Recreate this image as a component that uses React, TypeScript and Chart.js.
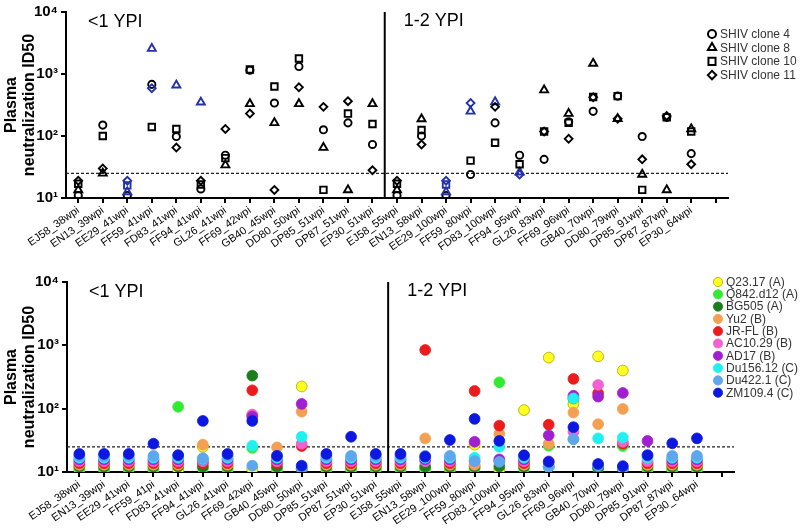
import React, { useEffect, useRef } from 'react';
import { Chart, registerables } from 'chart.js';
import { drawPoint } from 'chart.js/helpers';

Chart.register(...registerables);

const FONT = '"Liberation Sans", Arial, Helvetica, sans-serif';

// ---------- shared ----------
const periodLabels = ['<1 YPI', '1-2 YPI'];
const firstPeriodCount = 13;
const yTickValues = [10, 100, 1000, 10000];
const threshold = 25;
const yTitle = ['Plasma', 'neutralization ID50'];

// ---------- top panel ----------
const topLabels = [
  'EJ58_38wpi', 'EN13_39wpi', 'EE29_41wpi', 'FF59_41wpi', 'FD83_41wpi', 'FF94_41wpi', 'GL26_41wpi',
  'FF69_42wpi', 'GB40_45wpi', 'DD80_50wpi', 'DP85_51wpi', 'DP87_51wpi', 'EP30_51wpi',
  'EJ58_55wpi', 'EN13_58wpi', 'EE29_100wpi', 'FF59_80wpi', 'FD83_100wpi', 'FF94_95wpi', 'GL26_83wpi',
  'FF69_96wpi', 'GB40_70wpi', 'DD80_79wpi', 'DP85_91wpi', 'DP87_87wpi', 'EP30_64wpi', '',
];
const topSeriesNames = ['SHIV clone 4', 'SHIV clone 8', 'SHIV clone 10', 'SHIV clone 11'];
const clone4 = [11, 150, 11, 680, 98, 14, 49, 1150, 340, 1320, 126, 163, 73, 11, 100, 11, 24, 163, 49, 42, 170, 250, 440, 98, 200, 52, null];
const clone8 = [13.5, 25, 12.5, 2570, 660, 350, 34, 330, 163, 330, 65, 13.5, 330, 13.5, 188, 12.5, 250, 355, 26, 550, 230, 1480, 190, 24, 13.5, 130, null];
const clone10 = [17, 100, 16, 140, 130, 16.5, 44, 1180, 630, 1780, 13.5, 230, 156, 17, 125, 16.5, 40, 78, 35, 118, 163, 425, 440, 13.5, 200, 118, null];
const clone11 = [19, 30, 19, 590, 65, 19, 130, 230, 13.5, 610, 295, 365, 28, 19, 73, 19, 340, 295, 24, 118, 90, 420, 190, 42, 210, 35, null];
// indices of points shown highlighted (blue)
const clone4Highlighted: number[] = [];
const clone8Highlighted = [2, 3, 4, 5, 15, 16, 17, 18];
const clone10Highlighted = [2, 15];
const clone11Highlighted = [2, 3, 15, 16, 18];

// ---------- bottom panel ----------
const bottomLabels = [
  'EJ58_38wpi', 'EN13_39wpi', 'EE29_41wpi', 'FF59_41pi', 'FD83_41wpi', 'FF94_41wpi', 'GL26_41wpi',
  'FF69_42wpi', 'GB40_45wpi', 'DD80_50wpi', 'DP85_51wpi', 'DP87_51wpi', 'EP30_51wpi',
  'EJ58_55wpi', 'EN13_58wpi', 'EE29_100wpi', 'FF59_80wpi', 'FD83_100wpi', 'FF94_95wpi', 'GL26_83wpi',
  'FF69_96wpi', 'GB40_70wpi', 'DD80_79wpi', 'DP85_91wpi', 'DP87_87wpi', 'EP30_64wpi', '',
];
const virusNames = ['Q23.17 (A)', 'Q842.d12 (A)', 'BG505 (A)', 'Yu2 (B)', 'JR-FL (B)', 'AC10.29 (B)', 'AD17 (B)', 'Du156.12 (C)', 'Du422.1 (C)', 'ZM109.4 (C)'];
const q23 = [10.7, 10.7, 10.7, 10.7, 10.7, 25, 10.7, 11, 10.7, 224, 10.7, 10.7, 10.7, 10.7, 10.7, 10.7, 27, 10.7, 95, 640, 118, 670, 400, 10.7, 10.7, 10.7, null];
const q842 = [11.4, 11.4, 11.4, 11.4, 107, 11.4, 11.4, 24, 11.4, 11, 11.4, 11.4, 11.4, 11.4, 11.4, 11.4, 11.4, 261, 11.4, 26, 33, 11.5, 25.7, 11.4, 11.4, 11.4, null];
const bg505 = [12.2, 12.2, 12.2, 12.2, 12.2, 12.2, 12.2, 332, 12.2, 11, 12.2, 12.2, 12.2, 12.2, 12.2, 12.2, 12.2, 12.2, 12.2, 12.2, 145, 11.5, 11, 12.2, 12.2, 12.2, null];
const yu2 = [13, 13, 13, 13, 13, 27, 13, 81, 24.5, 90, 13, 13, 13, 13, 34, 13, 13, 40, 13, 28, 87, 57, 99, 13, 13, 13, null];
const jrfl = [13.8, 13.8, 13.8, 13.8, 13.8, 13.8, 13.8, 195, 13.8, 25.7, 13.8, 13.8, 13.8, 13.8, 845, 13.8, 190, 54, 13.8, 56, 295, 175, 28, 13.8, 13.8, 13.8, null];
const ac1029 = [14.8, 14.8, 14.8, 14.8, 14.8, 14.8, 14.8, 80, 14.8, 28, 14.8, 14.8, 14.8, 14.8, 14.8, 14.8, 14.8, 14.8, 14.8, 14.8, 43, 237, 30, 14.8, 14.8, 14.8, null];
const ad17 = [15.8, 15.8, 15.8, 15.8, 15.8, 15.8, 15.8, 75, 15.8, 119, 15.8, 15.8, 15.8, 15.8, 15.8, 15.8, 30, 15.8, 15.8, 38, 160, 155, 177, 31, 15.8, 15.8, null];
const du156 = [16.8, 16.8, 16.8, 16.8, 16.8, 16, 16.8, 26, 16.8, 36, 16.8, 16.8, 16.8, 16.8, 16.8, 16.8, 16.8, 25, 16.8, 12, 145, 34, 35, 16.8, 16.8, 16.8, null];
const du422 = [18, 18, 18, 18, 18, 16.6, 18, 12.6, 18, 11.5, 18, 18, 18, 18, 18, 18, 14.9, 14.5, 18, 12, 33, 12.5, 11.5, 18, 18, 18, null];
const zm109 = [19.3, 19.3, 19.3, 28, 18.5, 64, 19.3, 64, 18, 12.6, 19.3, 36, 19.3, 19.3, 17.5, 32, 69, 31, 18.4, 14.5, 51, 13.4, 12.4, 18.5, 28.4, 34, null];

const SUP = ['\u2070', '\u00B9', '\u00B2', '\u00B3', '\u2074'];

const BLACK = '#000000';
const HIGHLIGHT = '#2332a8';
const virusColors = ['#ffff22', '#33ea33', '#1c7d1c', '#f4a052', '#ec1c1c', '#f062d2', '#a020d0', '#22f0f0', '#5ea6ee', '#0c18e0'];
const virusBorders = ['#b3a300', '#33ea33', '#1c7d1c', '#f4a052', '#ec1c1c', '#f062d2', '#a020d0', '#22f0f0', '#5ea6ee', '#0c18e0'];

type PanelCfg = {
  labels: string[];
  yWidth: number;
  xHeight: number;
  padRight: number;
  padTop: number;
  legendDy: number;
  legendStep: number;
  legendKind: 'shape' | 'dot';
};

function overlayPlugin(cfg: PanelCfg) {
  return {
    id: 'overlay',
    beforeDatasetsDraw(chart: any) {
      const { ctx, chartArea } = chart;
      const x = chart.scales.x;
      const y = chart.scales.y;
      ctx.save();
      // threshold dotted line
      const ty = y.getPixelForValue(threshold);
      ctx.strokeStyle = '#222';
      ctx.lineWidth = 1.2;
      ctx.setLineDash([3, 2]);
      ctx.beginPath();
      ctx.moveTo(chartArea.left, ty);
      ctx.lineTo(chartArea.right, ty);
      ctx.stroke();
      ctx.setLineDash([]);
      // period separator
      const sx = x.getPixelForValue(firstPeriodCount - 0.5);
      ctx.strokeStyle = '#000';
      ctx.lineWidth = 2;
      ctx.beginPath();
      ctx.moveTo(sx, chartArea.top);
      ctx.lineTo(sx, chartArea.bottom);
      ctx.stroke();
      ctx.restore();
    },
    afterDraw(chart: any) {
      const { ctx, chartArea } = chart;
      const x = chart.scales.x;
      const sx = x.getPixelForValue(firstPeriodCount - 0.5);
      ctx.save();
      // period labels
      ctx.fillStyle = '#000';
      ctx.font = `18px ${FONT}`;
      ctx.textBaseline = 'middle';
      ctx.textAlign = 'left';
      ctx.fillText(periodLabels[0], chartArea.left + 22, chartArea.top + 10);
      ctx.fillText(periodLabels[1], sx + 19, chartArea.top + 9);
      // legend
      const lx = chartArea.right - 16;
      let ly = chartArea.top + cfg.legendDy;
      ctx.font = `12px ${FONT}`;
      chart.data.datasets.forEach((ds: any) => {
        if (cfg.legendKind === 'shape') {
          ctx.strokeStyle = BLACK;
          ctx.fillStyle = 'rgba(0,0,0,0)';
          ctx.lineWidth = 2;
          drawPoint(ctx, { pointStyle: ds.pointStyle, rotation: 0, radius: ds.legendRadius, borderWidth: 2 }, lx, ly);
        } else {
          ctx.fillStyle = ds.pointBackgroundColor;
          ctx.strokeStyle = ds.pointBorderColor;
          ctx.lineWidth = 0.8;
          drawPoint(ctx, { pointStyle: 'circle', rotation: 0, radius: 4.6, borderWidth: 0.8 }, lx, ly);
        }
        ctx.fillStyle = '#333';
        ctx.fillText(ds.label, lx + 8, ly + 0.5);
        ly += cfg.legendStep;
      });
      ctx.restore();
    },
  };
}

function makeOptions(cfg: PanelCfg) {
  return {
    responsive: false,
    animation: false as const,
    devicePixelRatio: 1,
    layout: { padding: { left: 0, right: cfg.padRight, top: cfg.padTop, bottom: 0 } },
    plugins: { legend: { display: false }, tooltip: { enabled: false } },
    scales: {
      x: {
        type: 'category' as const,
        labels: cfg.labels,
        offset: true,
        afterFit: (s: any) => { s.height = cfg.xHeight; },
        ticks: { autoSkip: false, minRotation: 35, maxRotation: 35, color: '#000', padding: 1, font: { family: FONT, size: 11 } },
        grid: { drawOnChartArea: false, color: '#000', lineWidth: 2, tickLength: 5 },
        border: { color: '#000', width: 2 },
      },
      y: {
        type: 'logarithmic' as const,
        min: 10,
        max: 10000,
        afterBuildTicks: (s: any) => { s.ticks = yTickValues.map((v) => ({ value: v, major: true })); },
        afterFit: (s: any) => { s.width = cfg.yWidth; },
        ticks: {
          color: '#000',
          padding: 3,
          autoSkip: false,
          font: { family: FONT, size: 15, weight: 'bold' as const },
          callback: (v: any) => '10' + SUP[Math.round(Math.log10(Number(v)))],
        },
        grid: { drawOnChartArea: false, color: '#000', lineWidth: 2, tickLength: 5 },
        border: { color: '#000', width: 2 },
        title: {
          display: true,
          text: yTitle,
          color: '#000',
          padding: { top: 2, bottom: 0 },
          font: { family: FONT, size: 16, weight: 'bold' as const, lineHeight: 1.15 },
        },
      },
    },
  };
}

const topCfg: PanelCfg = { labels: topLabels, yWidth: 66, xHeight: 52, padRight: 72, padTop: 10, legendDy: 22, legendStep: 13.7, legendKind: 'shape' };
const bottomCfg: PanelCfg = { labels: bottomLabels, yWidth: 67, xHeight: 58, padRight: 66, padTop: 32, legendDy: 0, legendStep: 12.3, legendKind: 'dot' };

function topDatasets() {
  const series = [clone4, clone8, clone10, clone11];
  const highlights = [clone4Highlighted, clone8Highlighted, clone10Highlighted, clone11Highlighted];
  const styles = ['circle', 'triangle', 'rect', 'rectRot'];
  const radii = [3.6, 4.6, 4.6, 3.9];
  const legendRadii = [4, 4.8, 5, 4.2];
  return series.map((data, i) => ({
    label: topSeriesNames[i],
    data,
    showLine: false,
    pointStyle: styles[i],
    pointRadius: radii[i],
    pointHoverRadius: radii[i],
    legendRadius: legendRadii[i],
    pointBorderWidth: 1.9,
    pointBackgroundColor: 'rgba(0,0,0,0)',
    pointBorderColor: (c: any) => (highlights[i].includes(c.dataIndex) ? HIGHLIGHT : BLACK),
    order: series.length - 1 - i,
  }));
}

function bottomDatasets() {
  const series = [q23, q842, bg505, yu2, jrfl, ac1029, ad17, du156, du422, zm109];
  return series.map((data, i) => ({
    label: virusNames[i],
    data,
    showLine: false,
    pointStyle: 'circle',
    pointRadius: 5.4,
    pointHoverRadius: 5.4,
    pointBorderWidth: 0.8,
    pointBackgroundColor: virusColors[i],
    pointBorderColor: virusBorders[i],
    order: series.length - 1 - i,
  }));
}

function Panel({ cfg, datasets, top, height }: { cfg: PanelCfg; datasets: () => any[]; top: number; height: number }) {
  const ref = useRef<HTMLCanvasElement | null>(null);
  useEffect(() => {
    if (!ref.current) return;
    const chart = new Chart(ref.current, {
      type: 'line',
      data: { labels: cfg.labels, datasets: datasets() },
      options: makeOptions(cfg) as any,
      plugins: [overlayPlugin(cfg) as any],
    });
    return () => chart.destroy();
  }, []);
  return (
    <div style={{ position: 'absolute', left: 0, top, width: 800, height }}>
      <canvas ref={ref} width={800} height={height} style={{ display: 'block', width: 800, height }} />
    </div>
  );
}

export default function App() {
  return (
    <div style={{ position: 'absolute', left: 0, top: 0, width: 800, height: 530, background: '#fff', overflow: 'hidden' }}>
      <Panel cfg={topCfg} datasets={topDatasets} top={0} height={250} />
      <Panel cfg={bottomCfg} datasets={bottomDatasets} top={250} height={280} />
    </div>
  );
}
